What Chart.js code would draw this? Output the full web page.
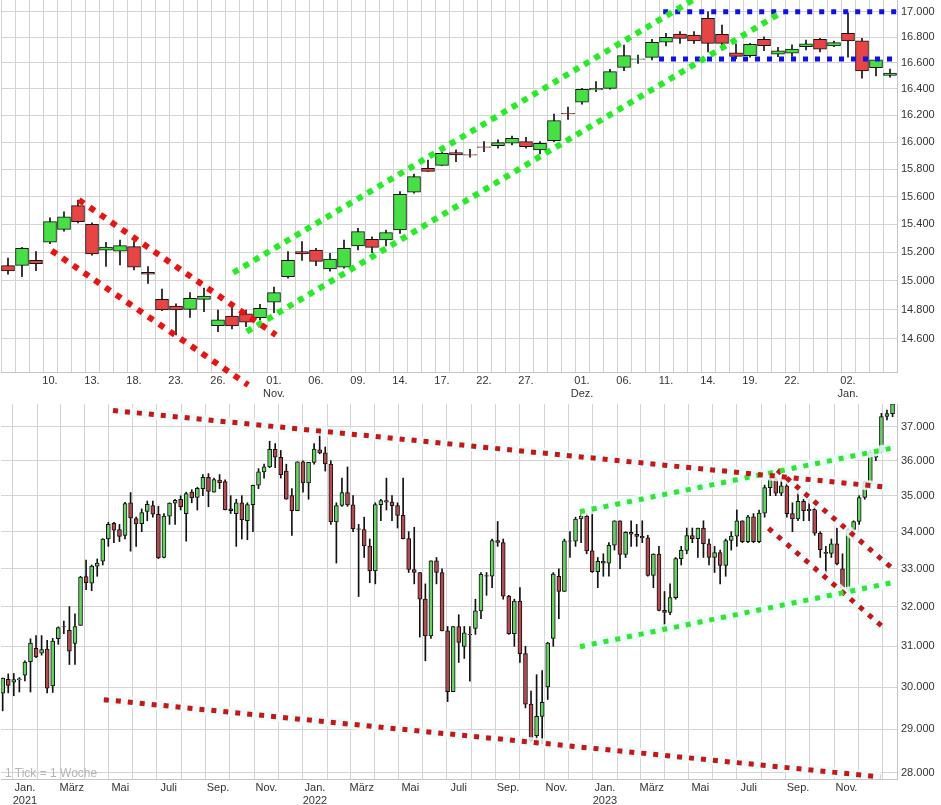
<!DOCTYPE html>
<html>
<head>
<meta charset="utf-8">
<title>DAX / Dow Jones</title>
<script src="https://cdn.jsdelivr.net/npm/chart.js@4.4.0/dist/chart.umd.min.js"></script>
<style>
  html, body { margin:0; padding:0; background:#fff; }
  #wrap { position:relative; width:941px; height:805px; overflow:hidden; }
  #topChart { position:absolute; left:0; top:0; }
  #botChart { position:absolute; left:0; top:400px; }
  #tickNote { position:absolute; left:5px; top:766px; font:12px 'Liberation Sans', Arial, sans-serif; color:#b4b4b4; }
</style>
</head>
<body>
<div id="wrap">
  <canvas id="topChart" width="941" height="400"></canvas>
  <canvas id="botChart" width="941" height="405"></canvas>
  <div id="tickNote">1 Tick = 1 Woche</div>
</div>
<script>
// ===== Top panel: daily candles (05.10.2023 - 05.01.2024) =====
const topOpen = [15107,15109,15144,15272,15364,15534,15400,15215,15208,15241,
  15060,14872,14826,14803,14872,14691,14757,14771,14745,14852,
  15030,15205,15217,15084,15095,15245,15293,15288,15359,15631,
  15806,15828,15922,15908,15964,15974,15991,16003,15942,16010,
  16215,16299,16392,16405,16566,16627,16643,16760,16825,16817,
  16948,16822,16678,16656,16783,16668,16676,16726,16783,16731,
  16830,16772,16563,16503];
const topHigh = [15159,15235,15205,15447,15490,15575,15410,15272,15288,15276,
  15100,14942,14840,14918,14949,14798,14810,14798,14838,14956,
  15205,15276,15229,15194,15288,15371,15311,15359,15635,15764,
  15866,15929,15942,15947,16003,16016,16045,16036,16003,16210,
  16262,16405,16456,16551,16738,16661,16783,16830,16843,16843,
  17000,16895,16747,16752,16803,16720,16740,16778,16791,16770,
  16992,16790,16628,16552];
const topLow = [15046,15030,15072,15262,15350,15410,15180,15101,15112,15077,
  14983,14793,14628,14748,14786,14650,14668,14684,14730,14779,
  15018,15144,15107,15067,15088,15217,15198,15245,15335,15625,
  15784,15828,15855,15888,15929,15954,15979,15954,15912,16003,
  16170,16285,16380,16398,16540,16597,16623,16731,16752,16752,
  16686,16700,16633,16645,16694,16648,16650,16700,16686,16726,
  16645,16482,16500,16490];
const topClose = [15070,15229,15121,15419,15454,15419,15189,15237,15248,15095,
  15046,14798,14798,14879,14895,14730,14689,14714,14810,14918,
  15144,15189,15137,15152,15229,15347,15236,15340,15616,15745,
  15784,15917,15905,15903,15960,15996,16028,15966,15991,16160,
  16210,16398,16405,16533,16656,16631,16760,16799,16791,16770,
  16752,16752,16650,16744,16733,16694,16707,16747,16707,16757,
  16770,16538,16623,16521];

const topTickIdx  = [3,6,9,12,15,19,22,25,28,31,34,37,41,44,47,50,53,56,60];
const topTickText = ['10.','13.','18.','23.','26.',['01.','Nov.'],'06.','09.','14.','17.','22.','27.',
  ['01.','Dez.'],'06.','11.','14.','19.','22.',['02.','Jan.']];
const topYTicks = [14600,14800,15000,15200,15400,15600,15800,16000,16200,16400,16600,16800,17000];

// trend lines [candle index, price]
const topRedUpper   = [[5.07,15575],[19.14,14627]];
const topRedLower   = [[3.12,15212],[17.16,14291]];
const topGreenUpper = [[16.09,15057],[48.93,17093]];
const topGreenLower = [[17.05,14650],[55.14,16987]];
const topBlueUpper  = [[46.8,17000],[63.5,17000]];
const topBlueLower  = [[46.5,16630],[63.2,16630]];

// ===== Bottom panel: weekly candles (week ending 04.12.2020 - 29.12.2023) =====
const botOpen = [29850,30190,30120,30170,30290, 30620,30950,30830,30930,30030,
  31190,31500,31400,31070,31530, 32790,32620,33070,33200,33800,
  34230,34060,33900,34800,34360, 34220,34560,34720,34480,33300,
  34430,34790,34900,34500,35100, 34950,35200,35520,35100,35440,
  35400,34630,34500,34800,34300, 34750,35300,35680,35820,36330,
  36100,35700,35000,34580,35970, 35365,35950,36320,36230,35900,
  34265,34725,35090,34740,34080, 34060,33610,32940,34750,34860,
  34820,34720,34450,33810,32980, 32900,32200,31260,33210,32900,
  31390,29890,31500,31000,31300, 31450,31900,32820,32800,33760,
  33700,32280,31320,32150,30820, 29590,28850,29300,30000,31200,
  32800,32400,33750,33740,34350, 34430,33480,32920,33200,33150,
  33630,34300,33380,33980,33930, 33870,33830,32820,33390,31910,
  31860,32240,33270,33490,33890, 33810,34100,33670,33300,33430,
  33090,33760,33880,34300,33730, 34410,33730,34510,35230,35460,
  35070,35280,34500,34350,34840, 34580,34620,33960,33440,33410,
  33670,33000,32420,34060,34280, 34950,35330,36100,36250,37310,
  37390];
const botHigh = [30220,30320,30330,30230,30640, 31190,31270,31270,31150,31200,
  31490,31640,32010,31820,32800, 33230,33100,33260,33810,34260,
  34260,34200,34810,35090,34400, 34630,34850,34850,34700,34500,
  34800,34900,35000,35100,35170, 35240,35600,35630,35500,35600,
  35450,35000,34900,35000,34800, 35300,35770,35900,36570,36500,
  36300,35900,35200,35970,36000, 35950,36500,36950,36400,36000,
  34800,35500,35820,35000,34200, 34400,33800,34800,34900,35500,
  35000,34800,35500,34000,34120, 32900,32600,33210,33300,33000,
  31500,31500,31800,31500,31500, 32200,32900,32900,33800,34280,
  33800,32300,32200,32500,31000, 29900,30300,30400,31100,32900,
  33000,33800,34000,34400,34600, 34500,34700,33300,33400,33700,
  34300,34300,34000,34300,34200, 34300,33900,33400,33600,32400,
  32600,33300,33600,34100,34100, 34100,34300,33800,33600,33500,
  33800,34000,34600,34300,34450, 34500,34600,35300,35680,35680,
  35500,35400,34800,35100,34900, 34900,34700,34000,33600,33800,
  34100,33400,34100,34300,35000, 35400,36300,36300,37400,37500,
  37800];
const botLow = [29430,29860,29790,29880,30150, 29880,30720,30780,29860,29870,
  31050,31320,30550,30550,31530, 32450,32420,32800,33100,33600,
  33700,33730,33800,33470,33600, 34000,34300,34400,33270,33290,
  34200,34200,34600,33740,34800, 34600,35000,34690,35100,35200,
  34600,34500,33600,33800,33780, 34000,35200,35500,35800,35800,
  35500,34900,33900,34580,35100, 34900,35900,36200,35700,34200,
  33150,34700,34700,34000,32270, 33300,32630,32600,34300,34600,
  34300,34100,33800,32900,32600, 31230,30640,31200,32600,31390,
  29650,29890,30600,30700,30140, 31300,31700,32300,32500,33600,
  32200,31300,31000,30600,29500, 28700,28700,28660,29700,31000,
  31700,32400,33300,33600,33700, 33400,32900,32500,32800,32800,
  33500,33000,33300,33600,33600, 33700,32800,32500,31900,31430,
  31800,32200,33100,33400,33700, 33300,33300,33100,32900,32600,
  32800,33500,33600,33700,33700, 33700,33700,34400,35000,35000,
  35000,34400,34000,34300,34300, 34300,33900,33300,32800,33300,
  33100,32330,32300,33800,34200, 34900,35200,36000,36200,37200,
  37300];
const botClose = [30218,30040,30180,30200,30610, 31080,30740,30920,29970,31130,
  31470,31490,30880,31500,32780, 32630,33070,33150,33800,34200,
  34040,33870,34780,34380,34210, 34530,34760,34480,33290,34430,
  34790,34870,34690,35060,34940, 35210,35520,35120,35460,35370,
  34610,34580,34800,34330,34750, 35290,35680,35820,36330,36100,
  35600,34900,34580,35970,35365, 35950,36340,36230,35910,34265,
  34725,35090,34740,34080,34060, 33610,32940,34750,34860,34820,
  34720,34450,33810,32980,32900, 32200,31260,33210,32900,31390,
  29890,31500,31100,31340,31290, 31900,32850,32800,33760,33710,
  32280,31320,32150,30820,29590, 28730,29300,29630,31080,32860,
  32400,33750,33740,34350,34430, 33480,32920,33200,33150,33630,
  34300,33380,33980,33930,33870, 33830,32820,33390,31910,31860,
  32240,33270,33490,33890,33810, 34100,33670,33300,33430,33090,
  33760,33880,34300,33730,34410, 33730,34510,35230,35460,35070,
  35280,34500,34350,34840,34580, 34620,33960,33510,33410,33670,
  33130,32420,34060,34280,34950, 35390,36250,36250,37300,37390,
  37690];

const monthText = ['Jan.','','März','','Mai','','Juli','','Sep.','','Nov.',''];
const botYears  = [2021,2022,2023];
const botYTicks = [28000,29000,30000,31000,32000,33000,34000,35000,36000,37000];

// trend lines [week index, price]
const botRedUpper      = [[19.84,37486],[159.2,35237]];
const botRedLower      = [[18.2,29697],[157.8,27905]];
const botGreenUpper    = [[103.8,34551],[160.2,36379]];
const botGreenLower    = [[103.8,30991],[160.2,32641]];
const botRedShortUpper = [[139.3,35732],[159.7,33041]];
const botRedShortLower = [[137.7,34092],[158.0,31520]];

// ===== helpers =====
const FONT = { family: "'Liberation Sans', Arial, sans-serif", size: 11 };
const GRID = '#d3d3d3';
const fmt = v => String(Math.round(v)).replace(/\B(?=(\d{3})+(?!\d))/g, '.');

function candles(o, h, l, c, bodyW, up, down) {
  const xs = o.map((_, i) => i);
  return [
    { type:'bar', data: xs.map(i => ({ x:i, y:[l[i], h[i]] })), backgroundColor:'#111',
      barThickness:1, grouped:false, order:3 },
    { type:'bar', data: xs.map(i => ({ x:i, y:[o[i], c[i]] })),
      backgroundColor: xs.map(i => c[i] >= o[i] ? up : down),
      borderColor:'#111', borderWidth:1, borderSkipped:false,
      barThickness:bodyW, grouped:false, order:2 }
  ];
}

function trend(pts, color, w, dash, extra) {
  return Object.assign({
    type:'line', data: pts.map(p => ({ x:p[0], y:p[1] })),
    borderColor:color, borderWidth:w, borderDash:dash, borderCapStyle:'butt',
    pointRadius:0, fill:false, tension:0, order:0
  }, extra || {});
}

function halo(pts) {
  return trend(pts, 'rgba(236,252,250,0.85)', 10, [], { order:1 });
}

function scales(xr, xTicks, xLabel, xH, yr, yTicks) {
  return {
    x: {
      type:'linear', min:xr[0], max:xr[1], bounds:'data', offset:false,
      afterBuildTicks: s => { s.ticks = xTicks.map(v => ({ value:v })); },
      ticks: { autoSkip:false, maxRotation:0, padding:2, font:FONT, color:'#333',
               callback: v => xLabel(v) },
      grid: { color:GRID, drawTicks:false },
      border: { color:'#c4c4c4' },
      afterFit: s => { s.height = xH; s.paddingLeft = 0; s.paddingRight = 0; }
    },
    y: {
      type:'logarithmic', position:'right', min:yr[0], max:yr[1], bounds:'data',
      afterBuildTicks: s => { s.ticks = yTicks.map(v => ({ value:v })); },
      ticks: { autoSkip:false, padding:4, font:FONT, color:'#333', callback: v => fmt(v) },
      grid: { color:GRID, drawTicks:false },
      border: { color:'#c4c4c4' },
      afterFit: s => { s.width = 44; s.paddingTop = 0; s.paddingBottom = 0; }
    }
  };
}

const baseOpts = {
  responsive:false, animation:false, events:[],
  plugins:{ legend:{ display:false }, tooltip:{ enabled:false } }
};

// ===== Top chart =====
const topLabelMap = new Map(topTickIdx.map((v, i) => [v, topTickText[i]]));
const topX = topOpen.map((_, i) => i);

new Chart(document.getElementById('topChart'), {
  type:'bar',
  data:{ datasets:[
    ...candles(topOpen, topHigh, topLow, topClose, 13, '#44e044', '#e84444'),
    trend(topRedUpper,   '#ee1111', 6, [6,7], { clip:false }),
    trend(topRedLower,   '#ee1111', 6, [6,7], { clip:false }),
    trend(topGreenUpper, '#22ee22', 6, [6,6]),
    trend(topGreenLower, '#22ee22', 6, [6,6]),
    trend(topBlueUpper,  '#1010ee', 5, [5,7]),
    trend(topBlueLower,  '#1010ee', 5, [5,7])
  ]},
  options:Object.assign({}, baseOpts, {
    layout:{ padding:{ left:1, top:0, right:0, bottom:0 } },
    scales: scales([-0.5, 63.5], topX, v => topLabelMap.get(v) || '', 28,
                   [14377.6, 17092.8], topYTicks)
  })
});

// ===== Bottom chart =====
const DAY = 864e5;
const botStart = Date.UTC(2020, 11, 4);
const weekOf = t => (t - botStart) / (7 * DAY);
const botXTicks = [], botLabelMap = new Map();
botYears.forEach(y => {
  monthText.forEach((txt, m) => {
    const v = weekOf(Date.UTC(y, m, 1));
    botXTicks.push(v);
    botLabelMap.set(v, m === 0 ? [txt, String(y)] : txt);
  });
});

new Chart(document.getElementById('botChart'), {
  type:'bar',
  data:{ datasets:[
    ...candles(botOpen, botHigh, botLow, botClose, 4, '#62d462', '#b84a4f'),
    halo(botRedUpper), halo(botRedLower), halo(botGreenUpper), halo(botGreenLower),
    halo(botRedShortUpper), halo(botRedShortLower),
    trend(botRedUpper,      '#cc1414', 5, [5,7]),
    trend(botRedLower,      '#cc1414', 5, [5,7]),
    trend(botGreenUpper,    '#2ee62e', 5, [5,7]),
    trend(botGreenLower,    '#2ee62e', 5, [5,7]),
    trend(botRedShortUpper, '#cc1414', 5, [5,7]),
    trend(botRedShortLower, '#cc1414', 5, [5,7])
  ]},
  options:Object.assign({}, baseOpts, {
    layout:{ padding:{ left:1, top:4, right:0, bottom:0 } },
    scales: scales([-0.3, 160.8], botXTicks, v => botLabelMap.get(v) || '', 26,
                   [27858, 37683], botYTicks)
  })
});
</script>
</body>
</html>
